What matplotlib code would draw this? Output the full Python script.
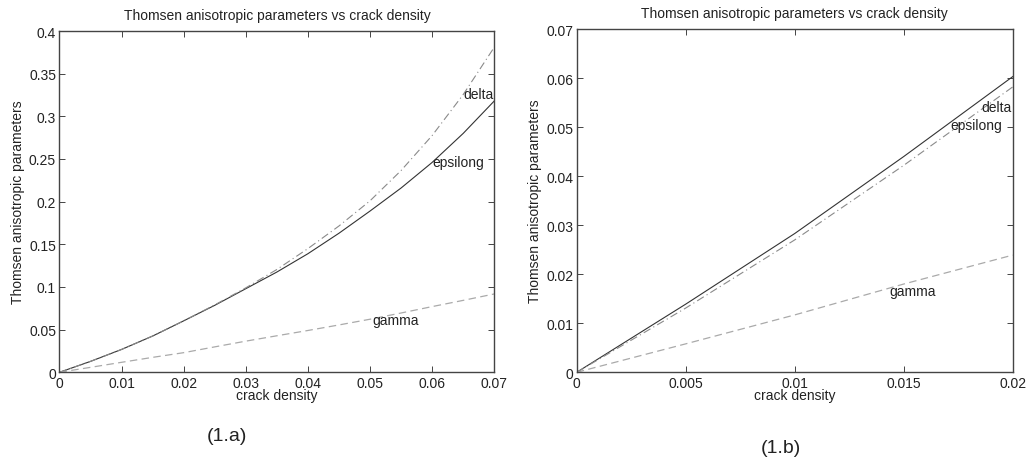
import matplotlib
matplotlib.use("Agg")
import matplotlib.pyplot as plt
from matplotlib.ticker import FuncFormatter

plt.rcParams['font.family'] = ['Liberation Sans', 'DejaVu Sans']

# ---- panel (1.a): crack density 0 .. 0.07 ----
density_a = [0, 0.005, 0.01, 0.015, 0.02, 0.025, 0.03, 0.035, 0.04, 0.045,
             0.05, 0.055, 0.06, 0.065, 0.07]
epsilon_a = [0, 0.0128, 0.0268, 0.0425, 0.0603, 0.0785, 0.0980, 0.1175, 0.1390,
             0.1630, 0.1890, 0.2160, 0.2460, 0.2800, 0.3180]
delta_a = [0, 0.0128, 0.0268, 0.0425, 0.0603, 0.0790, 0.0990, 0.1205, 0.1450,
           0.1715, 0.2010, 0.2365, 0.2775, 0.3255, 0.3810]
gamma_a = [0, 0.0058, 0.0117, 0.0175, 0.0230, 0.0298, 0.0365, 0.0428, 0.0490,
           0.0555, 0.0622, 0.0695, 0.0770, 0.0843, 0.0918]
xticks_a = [0, 0.01, 0.02, 0.03, 0.04, 0.05, 0.06, 0.07]
yticks_a = [0, 0.05, 0.1, 0.15, 0.2, 0.25, 0.3, 0.35, 0.4]
labels_a = {"delta": (0.0650, 0.326), "epsilong": (0.0601, 0.246), "gamma": (0.0503, 0.0617)}

# ---- panel (1.b): crack density 0 .. 0.02 ----
density_b = [0, 0.005, 0.01, 0.015, 0.02]
epsilon_b = [0, 0.0139, 0.0283, 0.0440, 0.0603]
delta_b = [0, 0.0131, 0.0270, 0.0422, 0.0582]
gamma_b = [0, 0.0058, 0.0117, 0.0180, 0.0239]
xticks_b = [0, 0.005, 0.01, 0.015, 0.02]
yticks_b = [0, 0.01, 0.02, 0.03, 0.04, 0.05, 0.06, 0.07]
labels_b = {"delta": (0.01858, 0.0541), "epsilong": (0.01712, 0.0505), "gamma": (0.01434, 0.01653)}

TITLE = "Thomsen anisotropic parameters vs crack density"
FRAME = "#444444"
TEXT = "#222222"

fig = plt.figure(figsize=(10.31, 4.64), dpi=100)
ax_a = fig.add_axes([0.0577, 0.1955, 0.4217, 0.7355])
ax_b = fig.add_axes([0.5594, 0.1955, 0.4229, 0.7398])

gfmt = FuncFormatter(lambda v, p: "{:g}".format(round(v, 6)))


def draw(ax, x, eps, dlt, gam, xt, yt, labels, caption, cap_xy):
    ax.plot(x, eps, color="#333333", lw=0.8, ls="-")
    ax.plot(x, dlt, color="#8a8a8a", lw=0.8, dashes=(7, 3, 1, 3))
    ax.plot(x, gam, color="#aaaaaa", lw=0.9, dashes=(6, 3.5))
    ax.set_xlim(xt[0], xt[-1])
    ax.set_ylim(yt[0], yt[-1])
    ax.set_xticks(xt)
    ax.set_yticks(yt)
    ax.xaxis.set_major_formatter(gfmt)
    ax.yaxis.set_major_formatter(gfmt)
    ax.tick_params(direction="in", length=4, width=0.7, color=FRAME,
                   top=True, right=True, labelsize=10, labelcolor=TEXT)
    ax.tick_params(axis="x", pad=2.5)
    ax.tick_params(axis="y", pad=2.5)
    for s in ax.spines.values():
        s.set_color(FRAME)
        s.set_linewidth(1.0)
    ax.set_title(TITLE, fontsize=10, color=TEXT, pad=9)
    ax.set_xlabel("crack density", fontsize=10, color=TEXT, labelpad=-1)
    ax.set_ylabel("Thomsen anisotropic parameters", fontsize=10, color=TEXT, labelpad=3)
    for name, (lx, ly) in labels.items():
        ax.text(lx, ly, name, fontsize=10, color=TEXT, ha="left", va="center")
    fig.text(cap_xy[0], cap_xy[1], caption, fontsize=14, color=TEXT,
             ha="center", va="center")


draw(ax_a, density_a, epsilon_a, delta_a, gamma_a, xticks_a, yticks_a, labels_a,
     "(1.a)", (227 / 1031, 1 - 437 / 464))
draw(ax_b, density_b, epsilon_b, delta_b, gamma_b, xticks_b, yticks_b, labels_b,
     "(1.b)", (781 / 1031, 1 - 449 / 464))

fig.savefig("out.png", dpi=100, facecolor="white")
